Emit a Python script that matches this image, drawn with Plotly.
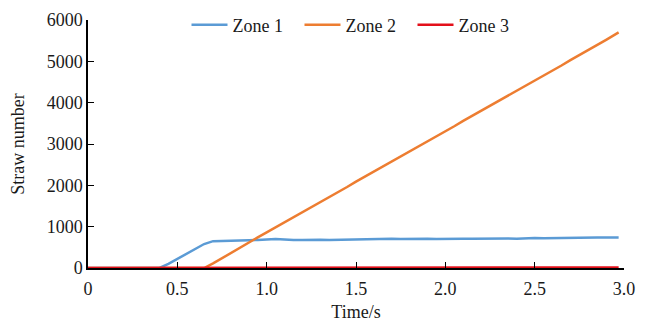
import plotly.graph_objects as go

time_s = [0.00, 0.05, 0.10, 0.15, 0.20, 0.25, 0.30, 0.35, 0.40, 0.45,
          0.50, 0.55, 0.60, 0.65, 0.70, 0.75, 0.80, 0.85, 0.90, 0.95,
          1.00, 1.05, 1.10, 1.15, 1.20, 1.25, 1.30, 1.35, 1.40, 1.45,
          1.50, 1.55, 1.60, 1.65, 1.70, 1.75, 1.80, 1.85, 1.90, 1.95,
          2.00, 2.05, 2.10, 2.15, 2.20, 2.25, 2.30, 2.35, 2.40, 2.45,
          2.50, 2.55, 2.60, 2.65, 2.70, 2.75, 2.80, 2.85, 2.90, 2.97]

zone1 = [0, 0, 0, 0, 0, 0, 0, 0, 0, 100,
         220, 340, 460, 580, 650, 660, 665, 670, 672, 680,
         690, 700, 690, 675, 680, 690, 685, 680, 685, 690,
         690, 685, 690, 700, 705, 700, 705, 710, 705, 700,
         705, 715, 710, 705, 710, 715, 720, 715, 710, 720,
         725, 720, 725, 735, 740, 730, 735, 740, 735, 735]

zone2 = [0, 0, 0, 0, 0, 0, 0, 0, 0, 0,
         0, 0, 0, 0, 110, 240, 370, 490, 610, 740,
         860, 980, 1110, 1230, 1350, 1470, 1600, 1720, 1840, 1960,
         2090, 2210, 2330, 2450, 2580, 2700, 2820, 2940, 3070, 3190,
         3310, 3430, 3560, 3680, 3800, 3920, 4050, 4170, 4290, 4410,
         4540, 4660, 4780, 4900, 5030, 5150, 5270, 5390, 5520, 5700]

zone3 = [0, 0, 0, 0, 0, 0, 0, 0, 0, 0,
         0, 0, 0, 5, 5, 5, 5, 8, 8, 8,
         8, 10, 10, 10, 10, 10, 10, 12, 12, 12,
         12, 12, 12, 12, 12, 12, 14, 14, 14, 14,
         14, 14, 14, 14, 14, 15, 15, 15, 15, 15,
         15, 15, 15, 15, 15, 15, 15, 15, 15, 15]

series_names = ["Zone 1", "Zone 2", "Zone 3"]
series_colors = ["#5B9BD5", "#ED7D31", "#E3101A"]

x_tickvals = [0, 0.5, 1.0, 1.5, 2.0, 2.5, 3.0]
x_ticktext = ["0", "0.5", "1.0", "1.5", "2.0", "2.5", "3.0"]
y_tickvals = [0, 1000, 2000, 3000, 4000, 5000, 6000]

fig = go.Figure()
for name, vals, col in zip(series_names, [zone1, zone2, zone3], series_colors):
    fig.add_trace(go.Scatter(x=time_s, y=vals, mode="lines", name=name,
                             line=dict(color=col, width=2.5)))

font = dict(family="Liberation Serif, Times New Roman, serif", size=18, color="#1a1a1a")

fig.update_layout(
    width=652, height=322,
    margin=dict(l=88, r=28, t=20, b=54, autoexpand=False),
    paper_bgcolor="white", plot_bgcolor="white",
    font=font,
    legend=dict(orientation="h", x=0.5, xanchor="center", y=0.98, yanchor="middle",
                bgcolor="rgba(0,0,0,0)", font=font, itemwidth=36,
                entrywidth=62, entrywidthmode="pixels"),
    xaxis=dict(range=[0, 3.0], tickvals=x_tickvals, ticktext=x_ticktext,
               showgrid=False, zeroline=False, showline=True, linecolor="black",
               linewidth=1.5, ticks="inside", ticklen=6, tickcolor="black",
               ticklabelstandoff=4, automargin=False,
               title=dict(text="Time/s", standoff=7, font=font)),
    yaxis=dict(range=[0, 6000], tickvals=y_tickvals,
               showgrid=False, zeroline=False, showline=True, linecolor="black",
               linewidth=1.5, ticks="inside", ticklen=6, tickcolor="black",
               automargin=False,
               title=dict(text="Straw number", standoff=17, font=font)),
)

fig.write_html("out.html")
